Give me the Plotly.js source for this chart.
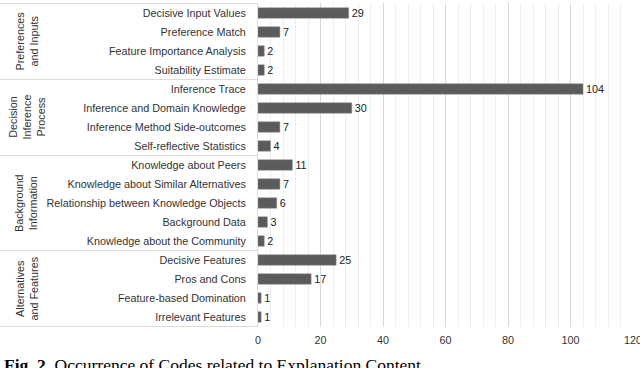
<!DOCTYPE html>
<html><head><meta charset="utf-8">
<script src="https://cdn.plot.ly/plotly-3.0.1.min.js"></script>
<style>html,body{margin:0;padding:0;background:#fff;}#chart{width:640px;height:368px;}</style>
</head><body><div id="chart"></div>
<script>
const categories = [
  "Decisive Input Values","Preference Match","Feature Importance Analysis","Suitability Estimate",
  "Inference Trace","Inference and Domain Knowledge","Inference Method Side-outcomes","Self-reflective Statistics",
  "Knowledge about Peers","Knowledge about Similar Alternatives","Relationship between Knowledge Objects","Background Data","Knowledge about the Community",
  "Decisive Features","Pros and Cons","Feature-based Domination","Irrelevant Features"
];
const values = [29,7,2,2, 104,30,7,4, 11,7,6,3,2, 25,17,1,1];
const groupNames = ["Preferences<br>and Inputs","Decision<br>Inference<br>Process","Background<br>Information","Alternatives<br>and Features"];
const groupSizes = [4,4,5,4];
const xTicks = [0,20,40,60,80,100,120];
const caption = "<b>Fig. 2.</b> Occurrence of Codes related to Explanation Content.";

const L = 258, R = 7, T = 3, B = 41, W = 640, H = 368;
const plotW = W - L - R, plotH = H - T - B;
const sepColor = "#dcdcdc";
const FS = 10.8;

const shapes = [], annotations = [];
let start = 0;
const bounds = [-0.5];
groupSizes.forEach((n, g) => {
  const end = start + n;
  bounds.push(end - 0.5);
  annotations.push({
    xref: "paper", yref: "y", x: -(L - 26) / plotW, y: start + (n - 1) / 2,
    text: groupNames[g], showarrow: false, textangle: -90,
    xanchor: "center", yanchor: "middle",
    font: {family: "Liberation Sans, Arial, sans-serif", size: FS, color: "#333"}
  });
  start = end;
});
bounds.forEach(b => shapes.push({
  type: "line", xref: "paper", yref: "y", x0: -L / plotW, x1: 0, y0: b, y1: b,
  line: {color: sepColor, width: 1}
}));
annotations.push({
  xref: "paper", yref: "paper", x: -(L - 2) / plotW, y: -(353 - (T + plotH)) / plotH,
  xanchor: "left", yanchor: "top", showarrow: false, text: caption, align: "left",
  font: {family: "Liberation Serif, Times New Roman, serif", size: 17.5, color: "#000"}
});

const trace = {
  type: "bar", orientation: "h", y: categories, x: values,
  marker: {color: "#5b5b5b", line: {color: "#8a8a8a", width: 0.5}},
  width: 0.55,
  text: values.map(String), textposition: "outside", cliponaxis: false,
  constraintext: "none",
  textfont: {family: "Liberation Sans, Arial, sans-serif", size: FS, color: "#222"},
  hoverinfo: "none"
};

const layout = {
  width: W, height: H,
  margin: {l: L, r: R, t: T, b: B, pad: 0},
  paper_bgcolor: "#fff", plot_bgcolor: "#fff",
  showlegend: false,
  font: {family: "Liberation Sans, Arial, sans-serif", size: FS, color: "#333"},
  xaxis: {
    range: [0, 120], tickvals: xTicks, ticktext: xTicks.map(String),
    showgrid: true, gridcolor: "#d9d9d9", gridwidth: 1,
    minor: {dtick: 4, tick0: 0, showgrid: true, gridcolor: "#eeeeee", gridwidth: 1},
    zeroline: false, showline: false, ticks: "", ticklabelstandoff: 5,
    ticklabeloverflow: "allow",
    tickfont: {size: FS, color: "#333"}, fixedrange: true
  },
  yaxis: {
    type: "category", categoryorder: "array", categoryarray: categories,
    autorange: "reversed", showgrid: false, zeroline: false,
    showline: true, linecolor: sepColor, linewidth: 1, ticks: "",
    ticklabelstandoff: 9, tickfont: {size: FS, color: "#333"}, fixedrange: true
  },
  bargap: 0.45,
  shapes: shapes, annotations: annotations
};

Plotly.newPlot("chart", [trace], layout, {staticPlot: true, displayModeBar: false});
</script>
</body></html>
